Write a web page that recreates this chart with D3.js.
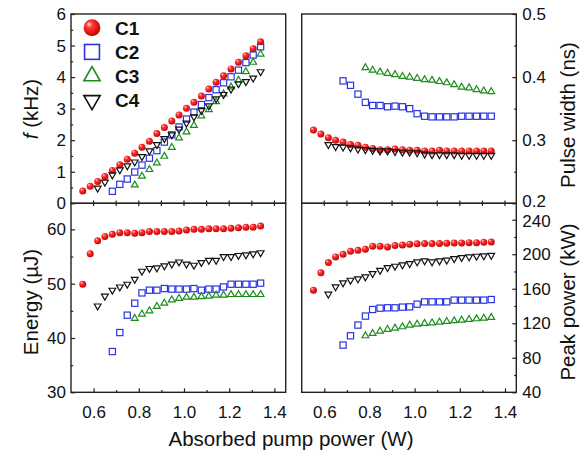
<!DOCTYPE html>
<html>
<head>
<meta charset="utf-8">
<script src="https://cdn.jsdelivr.net/npm/d3@7"></script>
<style>
  html, body { margin: 0; padding: 0; background: #fff; }
  svg { display: block; font-family: "Liberation Sans", Arial, sans-serif; }
</style>
</head>
<body>
<svg id="chart" width="584" height="453"></svg>
<script>
// Absorbed pump power (W), shared by every series
const pumpPower = [0.552, 0.585, 0.618, 0.650, 0.683, 0.716, 0.749, 0.782, 0.814, 0.847,
  0.880, 0.913, 0.946, 0.978, 1.011, 1.044, 1.077, 1.110, 1.142, 1.175,
  1.208, 1.241, 1.274, 1.306, 1.339];

const seriesNames = ["C1", "C2", "C3", "C4"];

// Repetition rate f (kHz); null = below threshold
const freqC1 = [0.39, 0.54, 0.69, 0.85, 1.04, 1.22, 1.40, 1.59, 1.78, 1.97, 2.21, 2.40, 2.61,
  2.80, 3.01, 3.20, 3.40, 3.62, 3.84, 4.04, 4.26, 4.47, 4.68, 4.90, 5.12];
const freqC2 = [null, null, null, null, 0.38, 0.60, 0.77, 0.99, 1.21, 1.43, 1.67, 1.94, 2.17,
  2.42, 2.67, 2.89, 3.13, 3.35, 3.60, 3.82, 4.01, 4.22, 4.46, 4.70, 4.96];
const freqC3 = [null, null, null, null, null, null, null, 0.58, 0.86, 1.07, 1.28, 1.49, 1.77,
  2.07, 2.26, 2.47, 2.77, 2.97, 3.22, 3.47, 3.69, 3.90, 4.17, 4.47, 4.73];
const freqC4 = [null, null, 0.48, 0.67, 0.90, 1.06, 1.19, 1.31, 1.48, 1.66, 1.86, 2.05, 2.17,
  2.35, 2.54, 2.74, 2.94, 3.09, 3.31, 3.45, 3.62, 3.79, 3.86, 3.97, 4.17];

// Pulse width (ns)
const widthC1 = [0.316, 0.310, 0.304, 0.300, 0.297, 0.293, 0.292, 0.289, 0.287, 0.285, 0.285,
  0.286, 0.285, 0.284, 0.284, 0.283, 0.283, 0.284, 0.283, 0.283, 0.283, 0.283, 0.283, 0.283, 0.283];
const widthC2 = [null, null, null, null, 0.394, 0.387, 0.373, 0.360, 0.355, 0.355, 0.353, 0.354,
  0.353, 0.350, 0.342, 0.338, 0.337, 0.337, 0.337, 0.337, 0.338, 0.338, 0.338, 0.338, 0.338];
const widthC3 = [null, null, null, null, null, null, null, 0.415, 0.411, 0.408, 0.406, 0.404,
  0.401, 0.400, 0.398, 0.396, 0.395, 0.393, 0.391, 0.388, 0.384, 0.383, 0.380, 0.378, 0.377];
const widthC4 = [null, null, 0.293, 0.290, 0.289, 0.288, 0.286, 0.285, 0.284, 0.283, 0.283,
  0.282, 0.281, 0.281, 0.280, 0.278, 0.277, 0.277, 0.277, 0.277, 0.276, 0.276, 0.276, 0.276, 0.276];

// Pulse energy (µJ)
const energyC1 = [49.9, 55.5, 57.9, 58.7, 59.1, 59.4, 59.4, 59.3, 59.4, 59.6, 59.6, 59.6, 59.6,
  59.7, 59.9, 60.0, 60.0, 60.1, 60.1, 60.1, 60.2, 60.3, 60.4, 60.4, 60.6];
const energyC2 = [null, null, null, null, 37.5, 41.0, 44.2, 46.4, 48.3, 48.8, 48.8, 49.1, 49.0,
  49.0, 49.0, 49.1, 48.8, 49.0, 49.0, 49.4, 49.9, 49.9, 49.9, 49.9, 50.1];
const energyC3 = [null, null, null, null, null, null, null, 43.6, 44.4, 45.0, 45.8, 46.4, 47.0,
  47.3, 47.5, 47.5, 47.6, 47.7, 47.9, 47.9, 48.0, 48.0, 48.0, 48.0, 48.0];
const energyC4 = [null, null, 45.9, 47.7, 48.8, 49.4, 49.9, 50.8, 52.3, 52.8, 52.9, 53.3, 53.6,
  54.0, 53.6, 53.4, 53.9, 54.3, 54.3, 55.0, 55.0, 55.2, 55.3, 55.5, 55.7];

// Peak power (kW)
const peakC1 = [158.3, 178.4, 190.3, 196.9, 199.9, 203.4, 204.6, 205.7, 209.2, 209.2, 208.5,
  210.0, 210.8, 211.6, 212.0, 212.3, 212.3, 212.3, 212.7, 213.1, 213.1, 213.4, 213.4, 213.8, 214.2];
const peakC2 = [null, null, null, null, 94.7, 105.5, 117.9, 128.3, 136.0, 137.5, 137.9, 137.9,
  138.7, 139.0, 142.1, 144.8, 144.8, 144.8, 144.8, 146.8, 146.8, 146.8, 146.8, 146.8, 147.5];
const peakC3 = [null, null, null, null, null, null, null, 105.5, 108.2, 110.9, 112.8, 114.4,
  115.9, 117.9, 119.0, 119.8, 120.5, 121.3, 122.1, 122.9, 123.6, 124.4, 125.2, 125.9, 126.7];
const peakC4 = [null, null, 153.7, 162.2, 166.8, 169.9, 171.4, 173.7, 177.6, 181.4, 184.6,
  186.1, 187.7, 189.2, 191.1, 192.3, 191.1, 192.3, 193.1, 195.0, 196.2, 196.9, 197.7, 198.1, 198.8];

// Axis ticks
const xMajorTicks = [0.6, 0.8, 1.0, 1.2, 1.4];
const xMinorTicks = [0.7, 0.9, 1.1, 1.3];
const freqTicks = [0, 1, 2, 3, 4, 5, 6];
const widthTicks = [0.2, 0.3, 0.4, 0.5];
const energyTicks = [30, 40, 50, 60];
const peakTicks = [40, 80, 120, 160, 200, 240];

const svg = d3.select("#chart");
const tickFont = 17;

// panel geometry
const L = { x0: 71, x1: 285.7 }, R = { x0: 301.7, x1: 516.3 };
const T = { y0: 14, y1: 203.3 }, B = { y0: 203.3, y1: 392.3 };

const xLeft = d3.scaleLinear().domain([0.5, 1.45]).range([L.x0, L.x1]);
const xRight = d3.scaleLinear().domain([0.5, 1.45]).range([R.x0, R.x1]);
const yFreq = d3.scaleLinear().domain([0, 6]).range([T.y1, T.y0]);
const yWidth = d3.scaleLinear().domain([0.2, 0.5]).range([T.y1, T.y0]);
const yEnergy = d3.scaleLinear().domain([30, 64.8]).range([B.y1, B.y0]);
const yPeak = d3.scaleLinear().domain([40, 259]).range([B.y1, B.y0]);

// sphere shading for the filled red circles
const defs = svg.append("defs");
const grad = defs.append("radialGradient").attr("id", "ball")
  .attr("cx", "0.42").attr("cy", "0.4").attr("r", "0.62")
  .attr("fx", "0.32").attr("fy", "0.28");
grad.append("stop").attr("offset", "0").attr("stop-color", "#ffe4e4");
grad.append("stop").attr("offset", "0.3").attr("stop-color", "#ff3a3a");
grad.append("stop").attr("offset", "0.75").attr("stop-color", "#e01010");
grad.append("stop").attr("offset", "1").attr("stop-color", "#b00808");

const styles = {
  C1: { kind: "circle" },
  C2: { kind: "square", color: "#2a35e0" },
  C3: { kind: "up", color: "#1c8c1c" },
  C4: { kind: "down", color: "#111111" }
};

function drawMarker(g, name, cx, cy, scale) {
  const s = styles[name];
  if (s.kind === "circle") {
    g.append("circle").attr("cx", cx).attr("cy", cy).attr("r", 3.5 * scale)
      .attr("fill", "url(#ball)");
  } else if (s.kind === "square") {
    const a = 6.2 * scale;
    g.append("rect").attr("x", cx - a / 2).attr("y", cy - a / 2)
      .attr("width", a).attr("height", a)
      .attr("fill", "none").attr("stroke", s.color).attr("stroke-width", scale > 1 ? 1.6 : 1.2);
  } else {
    const sym = d3.symbol().type(d3.symbolTriangle).size(20 * scale * scale)();
    g.append("path").attr("d", sym)
      .attr("transform", `translate(${cx},${cy})` + (s.kind === "down" ? " rotate(180)" : ""))
      .attr("fill", "none").attr("stroke", s.color).attr("stroke-width", scale > 1 ? 1.6 : 1.2);
  }
}

function plotSeries(xScale, yScale, sets) {
  const g = svg.append("g");
  sets.forEach(([name, values]) => {
    values.forEach((v, i) => {
      if (v === null) return;
      drawMarker(g, name, xScale(pumpPower[i]), yScale(v), 1);
    });
  });
}

// frames
const frameColor = "#222";
function frame(px, py) {
  svg.append("rect").attr("x", px.x0).attr("y", py.y0)
    .attr("width", px.x1 - px.x0).attr("height", py.y1 - py.y0)
    .attr("fill", "none").attr("stroke", frameColor).attr("stroke-width", 1.4);
}

// axis helpers
function styleAxis(sel) {
  sel.select(".domain").remove();
  sel.selectAll("line").attr("stroke", frameColor).attr("stroke-width", 1.2);
  sel.selectAll("text").attr("font-size", tickFont).attr("fill", "#111")
    .attr("font-family", "Liberation Sans, Arial, sans-serif");
}

function leftAxis(scale, x, major, minor, fmt) {
  svg.append("g").attr("transform", `translate(${x},0)`)
    .call(d3.axisLeft(scale).tickValues(minor).tickSize(-2.2).tickFormat(""))
    .call(styleAxis);
  return svg.append("g").attr("transform", `translate(${x},0)`)
    .call(d3.axisLeft(scale).tickValues(major).tickSize(-4).tickPadding(5).tickFormat(fmt))
    .call(styleAxis);
}
function rightAxis(scale, x, major, minor, fmt) {
  svg.append("g").attr("transform", `translate(${x},0)`)
    .call(d3.axisRight(scale).tickValues(minor).tickSize(-2.2).tickFormat(""))
    .call(styleAxis);
  return svg.append("g").attr("transform", `translate(${x},0)`)
    .call(d3.axisRight(scale).tickValues(major).tickSize(-4).tickPadding(6).tickFormat(fmt))
    .call(styleAxis);
}
function bottomAxis(scale, y) {
  svg.append("g").attr("transform", `translate(0,${y})`)
    .call(d3.axisBottom(scale).tickValues(xMinorTicks).tickSize(-2.2).tickFormat(""))
    .call(styleAxis);
  svg.append("g").attr("transform", `translate(0,${y})`)
    .call(d3.axisBottom(scale).tickValues(xMajorTicks).tickSize(-4).tickPadding(14)
      .tickFormat(d3.format(".1f")))
    .call(styleAxis);
}
// ticks straddling the shared border between top and bottom panels
function middleTicks(scale, y) {
  svg.append("g").selectAll("line")
    .data(xMajorTicks.concat(xMinorTicks)).join("line")
    .attr("x1", d => scale(d)).attr("x2", d => scale(d))
    .attr("y1", y - 2.7).attr("y2", y + 2.7)
    .attr("stroke", frameColor).attr("stroke-width", 1.2);
}

const halves = (ticks, step) => ticks.slice(0, -1).map(t => +(t + step / 2).toFixed(3));

// data
plotSeries(xLeft, yFreq, [["C1", freqC1], ["C2", freqC2], ["C3", freqC3], ["C4", freqC4]]);
plotSeries(xRight, yWidth, [["C1", widthC1], ["C2", widthC2], ["C3", widthC3], ["C4", widthC4]]);
plotSeries(xLeft, yEnergy, [["C1", energyC1], ["C2", energyC2], ["C3", energyC3], ["C4", energyC4]]);
plotSeries(xRight, yPeak, [["C1", peakC1], ["C2", peakC2], ["C3", peakC3], ["C4", peakC4]]);

frame(L, T); frame(R, T); frame(L, B); frame(R, B);

leftAxis(yFreq, L.x0, freqTicks, halves(freqTicks, 1), d3.format("d"));
leftAxis(yEnergy, L.x0, energyTicks, halves(energyTicks, 10), d3.format("d"));
const widthAxis = rightAxis(yWidth, R.x1, widthTicks, halves(widthTicks, 0.1), d3.format(".1f"));
const peakAxis = rightAxis(yPeak, R.x1, peakTicks, halves(peakTicks, 40), d3.format("d"));
// the bottom label of one right axis sits right above the top label of the other
widthAxis.selectAll(".tick text").filter(d => d === 0.2).attr("dy", "0.2em");
peakAxis.selectAll(".tick text").filter(d => d === 240).attr("dy", "0.4em");
bottomAxis(xLeft, B.y1);
bottomAxis(xRight, B.y1);
middleTicks(xLeft, T.y1);
middleTicks(xRight, T.y1);

// legend
const legend = svg.append("g");
seriesNames.forEach((name, i) => {
  const cy = 27.7 + i * 24.2;
  drawMarker(legend, name, 92, cy, 2.4);
  legend.append("text").attr("x", 115).attr("y", cy).attr("dy", "0.36em")
    .attr("font-size", 19).attr("font-weight", "bold").attr("fill", "#111").text(name);
});

// axis titles
const titleFont = 20.5;
const fTitle = svg.append("text").attr("transform", "translate(38,109) rotate(-90)")
  .attr("text-anchor", "middle").attr("font-size", titleFont).attr("fill", "#111");
fTitle.append("tspan").attr("font-style", "italic").text("f");
fTitle.append("tspan").text(" (kHz)");

svg.append("text").attr("transform", "translate(38,302) rotate(-90)")
  .attr("text-anchor", "middle").attr("font-size", titleFont).attr("fill", "#111")
  .text("Energy (µJ)");
svg.append("text").attr("transform", "translate(575,115) rotate(-90)")
  .attr("text-anchor", "middle").attr("font-size", titleFont).attr("fill", "#111")
  .text("Pulse width (ns)");
svg.append("text").attr("transform", "translate(575,302) rotate(-90)")
  .attr("text-anchor", "middle").attr("font-size", titleFont).attr("fill", "#111")
  .text("Peak power (kW)");
svg.append("text").attr("x", 291).attr("y", 446)
  .attr("text-anchor", "middle").attr("font-size", titleFont).attr("fill", "#111")
  .text("Absorbed pump power (W)");
</script>
</body>
</html>
